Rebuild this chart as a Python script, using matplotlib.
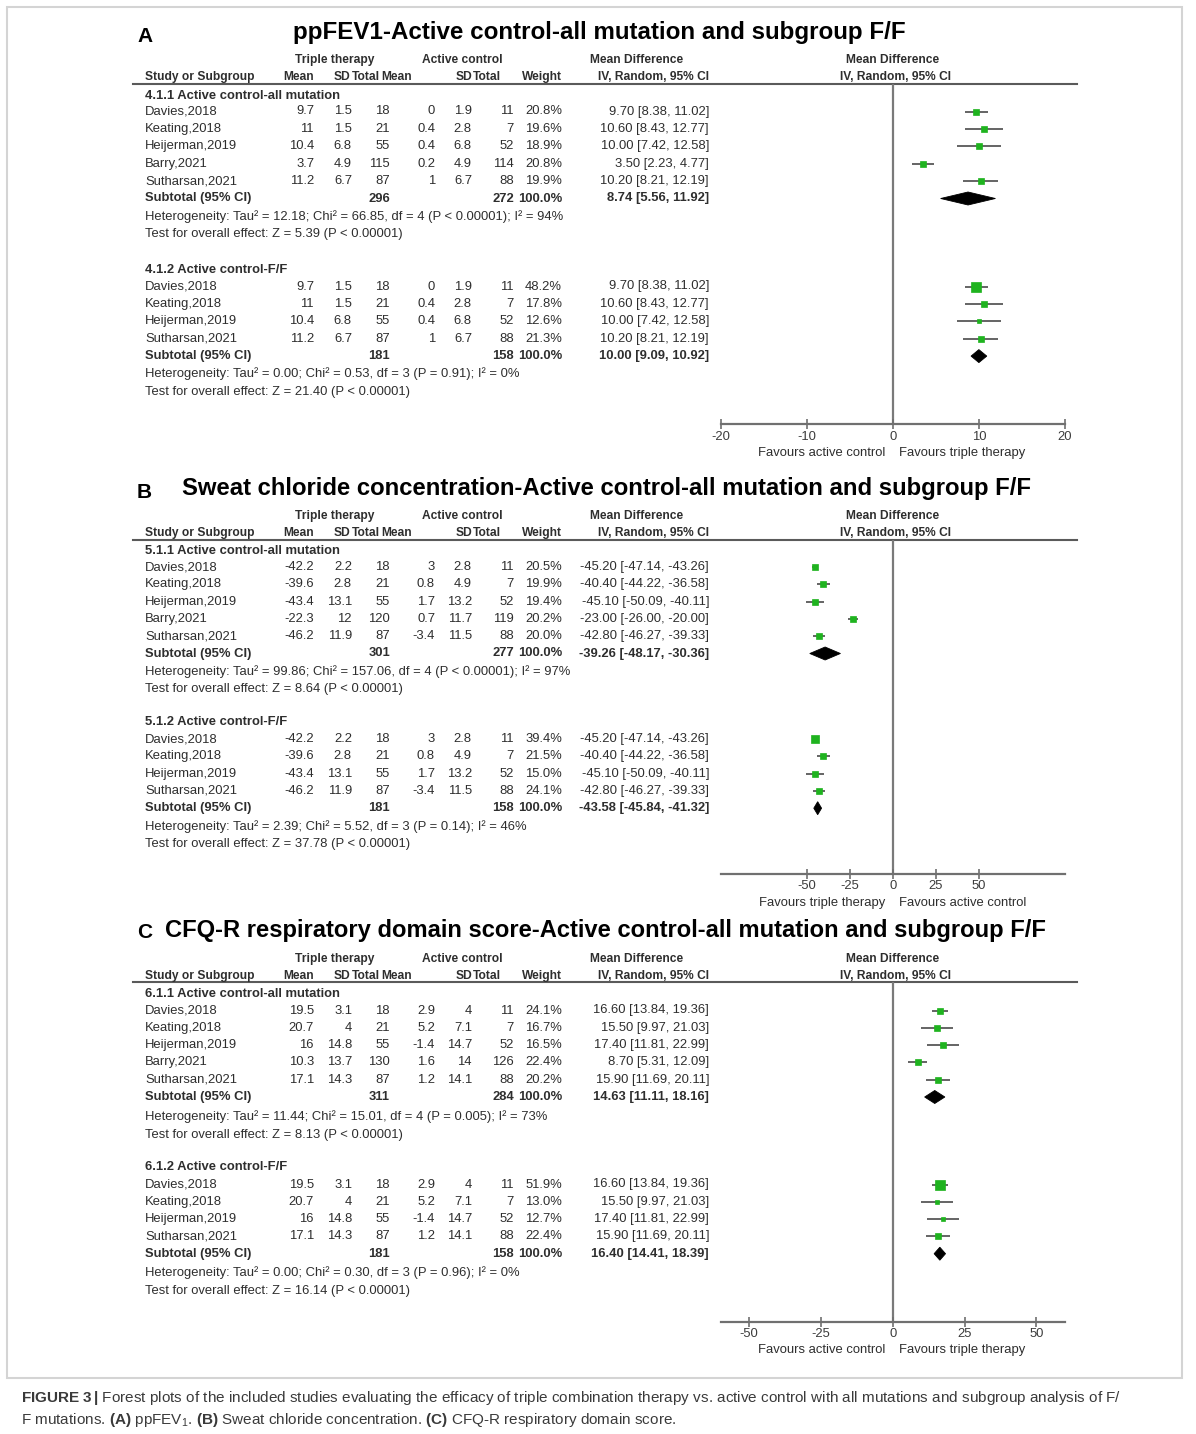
import matplotlib
matplotlib.use("Agg")
import matplotlib.pyplot as plt
from matplotlib import font_manager
from matplotlib.patches import Polygon, Rectangle

# ---------------------------------------------------------------- data
STUDIES = ["Davies,2018", "Keating,2018", "Heijerman,2019", "Barry,2021", "Sutharsan,2021"]
FF_IDX = [0, 1, 2, 4]          # studies included in the F/F subgroup

# Panel A : ppFEV1
A_T_MEAN = [9.7, 11, 10.4, 3.7, 11.2]
A_T_SD = [1.5, 1.5, 6.8, 4.9, 6.7]
A_T_N = [18, 21, 55, 115, 87]
A_C_MEAN = [0, 0.4, 0.4, 0.2, 1]
A_C_SD = [1.9, 2.8, 6.8, 4.9, 6.7]
A_C_N = [11, 7, 52, 114, 88]
A_MD = [9.70, 10.60, 10.00, 3.50, 10.20]
A_LO = [8.38, 8.43, 7.42, 2.23, 8.21]
A_HI = [11.02, 12.77, 12.58, 4.77, 12.19]
A_W_ALL = [20.8, 19.6, 18.9, 20.8, 19.9]
A_W_FF = [48.2, 17.8, 12.6, 21.3]
A_SUB_ALL = [296, 272, 8.74, 5.56, 11.92]
A_SUB_FF = [181, 158, 10.00, 9.09, 10.92]
A_HET_ALL = "Heterogeneity: Tau\u00b2 = 12.18; Chi\u00b2 = 66.85, df = 4 (P < 0.00001); I\u00b2 = 94%"
A_TEST_ALL = "Test for overall effect: Z = 5.39 (P < 0.00001)"
A_HET_FF = "Heterogeneity: Tau\u00b2 = 0.00; Chi\u00b2 = 0.53, df = 3 (P = 0.91); I\u00b2 = 0%"
A_TEST_FF = "Test for overall effect: Z = 21.40 (P < 0.00001)"
A_TICKS = [-20, -10, 0, 10, 20]

# Panel B : sweat chloride
B_T_MEAN = [-42.2, -39.6, -43.4, -22.3, -46.2]
B_T_SD = [2.2, 2.8, 13.1, 12, 11.9]
B_T_N = [18, 21, 55, 120, 87]
B_C_MEAN = [3, 0.8, 1.7, 0.7, -3.4]
B_C_SD = [2.8, 4.9, 13.2, 11.7, 11.5]
B_C_N = [11, 7, 52, 119, 88]
B_MD = [-45.20, -40.40, -45.10, -23.00, -42.80]
B_LO = [-47.14, -44.22, -50.09, -26.00, -46.27]
B_HI = [-43.26, -36.58, -40.11, -20.00, -39.33]
B_W_ALL = [20.5, 19.9, 19.4, 20.2, 20.0]
B_W_FF = [39.4, 21.5, 15.0, 24.1]
B_SUB_ALL = [301, 277, -39.26, -48.17, -30.36]
B_SUB_FF = [181, 158, -43.58, -45.84, -41.32]
B_HET_ALL = "Heterogeneity: Tau\u00b2 = 99.86; Chi\u00b2 = 157.06, df = 4 (P < 0.00001); I\u00b2 = 97%"
B_TEST_ALL = "Test for overall effect: Z = 8.64 (P < 0.00001)"
B_HET_FF = "Heterogeneity: Tau\u00b2 = 2.39; Chi\u00b2 = 5.52, df = 3 (P = 0.14); I\u00b2 = 46%"
B_TEST_FF = "Test for overall effect: Z = 37.78 (P < 0.00001)"
B_TICKS = [-50, -25, 0, 25, 50]

# Panel C : CFQ-R respiratory domain
C_T_MEAN = [19.5, 20.7, 16, 10.3, 17.1]
C_T_SD = [3.1, 4, 14.8, 13.7, 14.3]
C_T_N = [18, 21, 55, 130, 87]
C_C_MEAN = [2.9, 5.2, -1.4, 1.6, 1.2]
C_C_SD = [4, 7.1, 14.7, 14, 14.1]
C_C_N = [11, 7, 52, 126, 88]
C_MD = [16.60, 15.50, 17.40, 8.70, 15.90]
C_LO = [13.84, 9.97, 11.81, 5.31, 11.69]
C_HI = [19.36, 21.03, 22.99, 12.09, 20.11]
C_W_ALL = [24.1, 16.7, 16.5, 22.4, 20.2]
C_W_FF = [51.9, 13.0, 12.7, 22.4]
C_SUB_ALL = [311, 284, 14.63, 11.11, 18.16]
C_SUB_FF = [181, 158, 16.40, 14.41, 18.39]
C_HET_ALL = "Heterogeneity: Tau\u00b2 = 11.44; Chi\u00b2 = 15.01, df = 4 (P = 0.005); I\u00b2 = 73%"
C_TEST_ALL = "Test for overall effect: Z = 8.13 (P < 0.00001)"
C_HET_FF = "Heterogeneity: Tau\u00b2 = 0.00; Chi\u00b2 = 0.30, df = 3 (P = 0.96); I\u00b2 = 0%"
C_TEST_FF = "Test for overall effect: Z = 16.14 (P < 0.00001)"
C_TICKS = [-50, -25, 0, 25, 50]

# ---------------------------------------------------------------- fonts
names = {f.name for f in font_manager.fontManager.ttflist}
SANS = "Liberation Sans" if "Liberation Sans" in names else "DejaVu Sans"
NARROW = "Liberation Sans Narrow" if "Liberation Sans Narrow" in names else SANS
plt.rcParams["font.family"] = [SANS, "DejaVu Sans"]
plt.rcParams["axes.unicode_minus"] = False
plt.rcParams["mathtext.fontset"] = "custom"
plt.rcParams["mathtext.rm"] = NARROW
plt.rcParams["mathtext.bf"] = NARROW + ":bold"
plt.rcParams["mathtext.it"] = NARROW + ":italic"

W, H, DPI = 1196, 1434, 100
fig = plt.figure(figsize=(W / DPI, H / DPI), dpi=DPI)
fig.patch.set_facecolor("white")
bg = fig.add_axes([0, 0, 1, 1])
bg.set_xlim(0, W)
bg.set_ylim(H, 0)
bg.axis("off")
R = fig.canvas.get_renderer()

TXT = "#2e2e2e"
GREEN = "#1fb31f"
LINEC = "#5a5a5a"
AXC = "#707070"


def fit_size(s, target, base=10, **kw):
    t = bg.text(0, 0, s, fontsize=base, **kw)
    w = t.get_window_extent(R).width
    t.remove()
    return base * target / w


FS = fit_size(A_HET_ALL, 419)
FSH = FS * 0.92


def T(x, y, s, ha="left", bold=False, size=None, color=TXT, **kw):
    return bg.text(x, y, s, ha=ha, va="center", fontsize=size or FS,
                   fontweight="bold" if bold else "normal", color=color, **kw)


NAME_X = 145
DATA_X = [314, 352, 390, 435, 472, 514, 562, 709]
H2_X = [314, 350, 380, 412, 472, 501, 562]
H2_LAB = ["Mean", "SD", "Total", "Mean", "SD", "Total", "Weight"]
PLOT_X0, PLOT_X1 = 720.5, 1065


def fmt(v):
    return f"{v:g}"


def ci(m, lo, hi):
    return f"{m:.2f} [{lo:.2f}, {hi:.2f}]"


def draw_group(ax, P, L, key, idx, w, sub, het, test, label):
    y0, step = L["r" + key], L["step"]
    T(NAME_X, L["sec" + key], label, bold=True)
    for k, i in enumerate(idx):
        y = y0 + k * step
        T(NAME_X, y, STUDIES[i])
        vals = [P["tm"][i], P["tsd"][i], P["tn"][i], P["cm"][i], P["csd"][i], P["cn"][i]]
        for x, v in zip(DATA_X[:6], vals):
            T(x, y, fmt(v), ha="right")
        T(DATA_X[6], y, f"{w[k]:.1f}%", ha="right")
        T(DATA_X[7], y, ci(P["md"][i], P["lo"][i], P["hi"][i]), ha="right")
        ax.plot([P["lo"][i], P["hi"][i]], [y, y], color="#3a3a3a", lw=1.1,
                solid_capstyle="butt", clip_on=False, zorder=2)
        side = 1.35 * w[k] ** 0.5
        ax.plot([P["md"][i]], [y], marker="s", ms=side * 0.72, color=GREEN,
                mec=GREEN, mew=0.5, ls="none", clip_on=False, zorder=3)
    ys = y0 + len(idx) * step
    T(NAME_X, ys, "Subtotal (95% CI)", bold=True)
    T(DATA_X[2], ys, str(sub[0]), ha="right", bold=True)
    T(DATA_X[5], ys, str(sub[1]), ha="right", bold=True)
    T(DATA_X[6], ys, "100.0%", ha="right", bold=True)
    T(DATA_X[7], ys, ci(sub[2], sub[3], sub[4]), ha="right", bold=True)
    h = 6.5
    ax.add_patch(Polygon([(sub[3], ys), (sub[2], ys - h), (sub[4], ys),
                          (sub[2], ys + h)], closed=True, fc="black",
                         ec="black", lw=0.6, clip_on=False, zorder=3))
    T(NAME_X, L["het" + key], het)
    T(NAME_X, L["test" + key], test)


def draw_panel(P):
    L = P["lay"]
    T(137, L["title"] + 3, P["letter"], bold=True, size=15, color="black")
    tfs = fit_size(P["title"], P["title_w"], fontweight="bold")
    T(P["title_cx"], L["title"], P["title"], ha="center", bold=True,
      size=tfs, color="black")
    T(334.5, L["h1"], "Triple therapy", ha="center", bold=True, size=FSH)
    T(462, L["h1"], "Active control", ha="center", bold=True, size=FSH)
    T(637, L["h1"], "Mean Difference", ha="center", bold=True, size=FSH)
    T(893, L["h1"], "Mean Difference", ha="center", bold=True, size=FSH)
    T(NAME_X, L["h2"], "Study or Subgroup", bold=True, size=FSH)
    for x, s in zip(H2_X, H2_LAB):
        T(x, L["h2"], s, ha="right", bold=True, size=FSH)
    T(DATA_X[7], L["h2"], "IV, Random, 95% CI", ha="right", bold=True, size=FSH)
    T(896, L["h2"], "IV, Random, 95% CI", ha="center", bold=True, size=FSH)
    bg.plot([133, 1077], [L["line"]] * 2, color=LINEC, lw=1.5)

    top, bot = L["line"], L["axis"]
    ax = fig.add_axes([PLOT_X0 / W, 1 - bot / H, (PLOT_X1 - PLOT_X0) / W,
                       (bot - top) / H])
    ax.set_xlim(*P["xlim"])
    ax.set_ylim(bot, top)
    ax.patch.set_alpha(0)
    for s in ("left", "right", "top"):
        ax.spines[s].set_visible(False)
    ax.spines["bottom"].set_color(AXC)
    ax.spines["bottom"].set_linewidth(1.6)
    ax.set_yticks([])
    ax.set_xticks(P["ticks"])
    ax.set_xticklabels([fmt(t) for t in P["ticks"]])
    ax.tick_params(axis="x", direction="inout", length=6.5, width=1.2,
                   color=AXC, labelsize=FS, labelcolor="#3c3c3c", pad=1.5)
    ax.axvline(0, color="#7a7a7a", lw=1.6, zorder=1)

    draw_group(ax, P, L, "1", range(5), P["w_all"], P["sub_all"],
               P["het_all"], P["test_all"], P["sec1"])
    draw_group(ax, P, L, "2", FF_IDX, P["w_ff"], P["sub_ff"],
               P["het_ff"], P["test_ff"], P["sec2"])

    T(885, L["fav"], P["fav"][0], ha="right")
    T(899, L["fav"], P["fav"][1], ha="left")


panels = [
    dict(letter="A", title="ppFEV1-Active control-all mutation and subgroup F/F",
         title_cx=599, title_w=612,
         lay=dict(title=33, h1=60, h2=77, line=83.5, sec1=96, r1=111.5,
                  step=17.4, het1=216.5, test1=234, sec2=270, r2=286.5,
                  het2=374, test2=392, axis=424, fav=453),
         tm=A_T_MEAN, tsd=A_T_SD, tn=A_T_N, cm=A_C_MEAN, csd=A_C_SD, cn=A_C_N,
         md=A_MD, lo=A_LO, hi=A_HI, w_all=A_W_ALL, w_ff=A_W_FF,
         sub_all=A_SUB_ALL, sub_ff=A_SUB_FF, het_all=A_HET_ALL,
         test_all=A_TEST_ALL, het_ff=A_HET_FF, test_ff=A_TEST_FF,
         sec1="4.1.1 Active control-all mutation", sec2="4.1.2 Active control-F/F",
         xlim=(-20, 20), ticks=A_TICKS,
         fav=("Favours active control", "Favours triple therapy")),
    dict(letter="B",
         title="Sweat chloride concentration-Active control-all mutation and subgroup F/F",
         title_cx=606, title_w=848,
         lay=dict(title=489, h1=516, h2=533, line=539.5, sec1=551, r1=567,
                  step=17.3, het1=672, test1=689, sec2=722, r2=739,
                  het2=827, test2=844, axis=873.5, fav=903),
         tm=B_T_MEAN, tsd=B_T_SD, tn=B_T_N, cm=B_C_MEAN, csd=B_C_SD, cn=B_C_N,
         md=B_MD, lo=B_LO, hi=B_HI, w_all=B_W_ALL, w_ff=B_W_FF,
         sub_all=B_SUB_ALL, sub_ff=B_SUB_FF, het_all=B_HET_ALL,
         test_all=B_TEST_ALL, het_ff=B_HET_FF, test_ff=B_TEST_FF,
         sec1="5.1.1 Active control-all mutation", sec2="5.1.2 Active control-F/F",
         xlim=(-100, 100), ticks=B_TICKS,
         fav=("Favours triple therapy", "Favours active control")),
    dict(letter="C",
         title="CFQ-R respiratory domain score-Active control-all mutation and subgroup F/F",
         title_cx=605, title_w=881,
         lay=dict(title=930, h1=959, h2=976, line=982, sec1=994, r1=1010.5,
                  step=17.3, het1=1117, test1=1135, sec2=1167, r2=1184.5,
                  het2=1273, test2=1291, axis=1321.5, fav=1350),
         tm=C_T_MEAN, tsd=C_T_SD, tn=C_T_N, cm=C_C_MEAN, csd=C_C_SD, cn=C_C_N,
         md=C_MD, lo=C_LO, hi=C_HI, w_all=C_W_ALL, w_ff=C_W_FF,
         sub_all=C_SUB_ALL, sub_ff=C_SUB_FF, het_all=C_HET_ALL,
         test_all=C_TEST_ALL, het_ff=C_HET_FF, test_ff=C_TEST_FF,
         sec1="6.1.1 Active control-all mutation", sec2="6.1.2 Active control-F/F",
         xlim=(-60, 60), ticks=C_TICKS,
         fav=("Favours active control", "Favours triple therapy")),
]

bg.add_patch(Rectangle((7, 7), 1175, 1371, fill=False, ec="#d4d4d4", lw=1.5))

for P in panels:
    draw_panel(P)

# ---------------------------------------------------------------- caption
CAP1 = (r"$\mathbf{FIGURE\ 3\,|}$ Forest plots of the included studies evaluating the "
        r"efficacy of triple combination therapy vs. active control with all "
        r"mutations and subgroup analysis of F/")
CAP2 = (r"F mutations. $\mathbf{(A)}$ ppFEV$_1$. $\mathbf{(B)}$ Sweat chloride "
        r"concentration. $\mathbf{(C)}$ CFQ-R respiratory domain score.")
cfs = fit_size(CAP1, 1097, family=[NARROW, "DejaVu Sans"])
bg.text(21, 1398, CAP1, ha="left", va="center", fontsize=cfs,
        family=[NARROW, "DejaVu Sans"], color="#3a3a3a")
bg.text(21, 1420, CAP2, ha="left", va="center", fontsize=cfs,
        family=[NARROW, "DejaVu Sans"], color="#3a3a3a")

fig.savefig("out.png", dpi=DPI, facecolor="white")
